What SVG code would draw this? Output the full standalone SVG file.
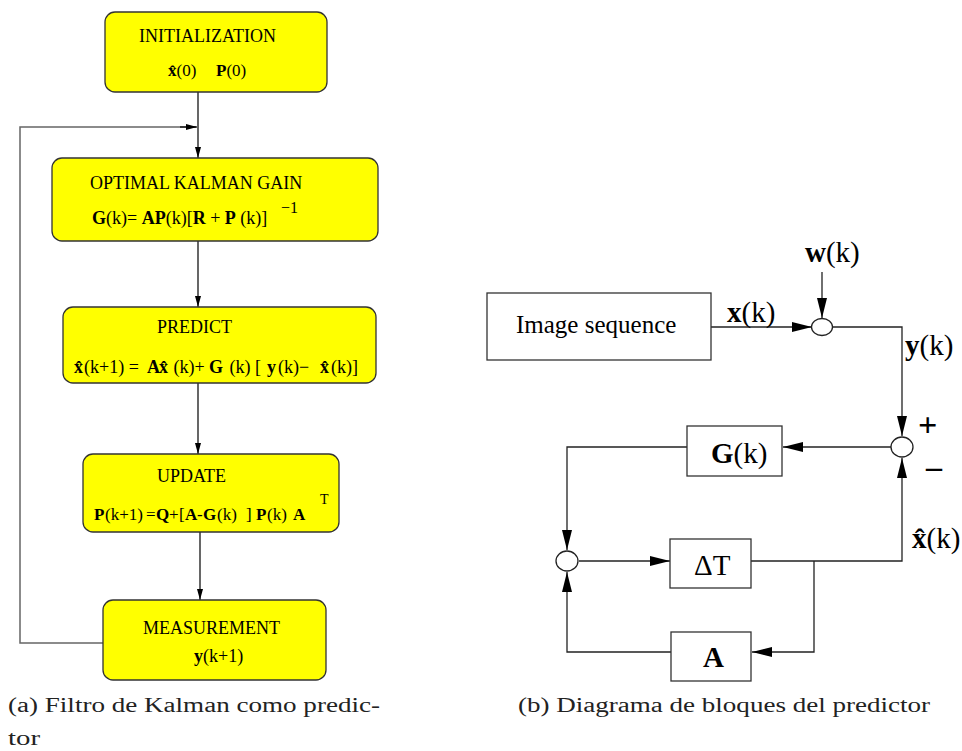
<svg xmlns="http://www.w3.org/2000/svg" width="962" height="751" viewBox="0 0 962 751">
<style>
.box{fill:#ffff00;stroke:#333;stroke-width:1.3}
.blk{fill:#fff;stroke:#333;stroke-width:1.3}
.ln{fill:none;stroke:#000;stroke-width:1.2}
.fb{fill:none;stroke:#666;stroke-width:1.5}
.rl{fill:none;stroke:#222;stroke-width:1.3}
.sum{fill:#fff;stroke:#222;stroke-width:1.3}
text{font-family:"Liberation Serif","Times New Roman",serif;fill:#000}
.t18{font-size:18px}
.b{font-weight:bold}
.big{font-size:29px}
.cap{font-size:20px;fill:#222}
</style>
<defs>
<marker id="aL" markerUnits="userSpaceOnUse" markerWidth="11" markerHeight="6" refX="11" refY="3" orient="auto"><path d="M0,0 L11,3 L0,6 z" fill="#000"/></marker>
<marker id="aR" markerUnits="userSpaceOnUse" markerWidth="20" markerHeight="10" refX="20" refY="5" orient="auto"><path d="M0,0 L20,5 L0,10 z" fill="#000"/></marker>
</defs>

<g id="connectors">
<line class="ln" x1="198" y1="92" x2="198" y2="158" marker-end="url(#aL)"/>
<polyline class="fb" points="103,643 20,643 20,127 196,127"/>
<line class="ln" x1="180" y1="127" x2="197" y2="127" marker-end="url(#aL)"/>
<line class="ln" x1="198" y1="241" x2="198" y2="307" marker-end="url(#aL)"/>
<line class="ln" x1="198" y1="383" x2="198" y2="454" marker-end="url(#aL)"/>
<line class="ln" x1="200" y1="532" x2="200" y2="600" marker-end="url(#aL)"/>

<line class="rl" x1="711" y1="327" x2="812" y2="327" marker-end="url(#aR)"/>
<line class="rl" x1="822" y1="272" x2="822" y2="318" marker-end="url(#aR)"/>
<polyline class="rl" points="833,327 902,327 902,436" marker-end="url(#aR)"/>
<line class="rl" x1="891" y1="447" x2="783" y2="447" marker-end="url(#aR)"/>
<polyline class="rl" points="687,447 567,447 567,550" marker-end="url(#aR)"/>
<line class="rl" x1="579" y1="561" x2="670" y2="561" marker-end="url(#aR)"/>
<polyline class="rl" points="751,561 902,561 902,458" marker-end="url(#aR)"/>
<polyline class="rl" points="814,561 814,652 752,652" marker-end="url(#aR)"/>
<polyline class="rl" points="671,652 567,652 567,572" marker-end="url(#aR)"/>
</g>

<g id="init">
<rect class="box" x="105" y="12" width="222" height="80" rx="10"/>
<text class="t18" x="139" y="42">INITIALIZATION</text>
<text style="font-size:17px" y="76"><tspan class="b" x="168">x&#x302;</tspan><tspan>(0)</tspan><tspan class="b" x="216">P</tspan><tspan>(0)</tspan></text>
</g>

<g id="gain">
<rect class="box" x="52" y="158" width="326" height="83" rx="10"/>
<text class="t18" x="90" y="189">OPTIMAL KALMAN GAIN</text>
<text class="t18" x="92" y="224"><tspan class="b">G</tspan>(k)= <tspan class="b">AP</tspan>(k)[<tspan class="b">R</tspan> +  <tspan class="b">P</tspan> (k)]</text>
<text style="font-size:16px" x="281" y="213">−1</text>
</g>

<g id="predict">
<rect class="box" x="63" y="307" width="313" height="76" rx="10"/>
<text class="t18" x="157" y="333">PREDICT</text>
<text class="t18" y="373"><tspan class="b" x="74">x&#x302;</tspan><tspan x="84">(k+1) = </tspan><tspan class="b" x="147">A</tspan><tspan class="b" x="159">x&#x302;</tspan><tspan x="169"> (k)+ </tspan><tspan class="b" x="209">G</tspan><tspan x="225"> (k) </tspan><tspan x="255">[</tspan><tspan class="b" x="267">y</tspan><tspan x="278">(k)−</tspan><tspan class="b" x="320">x&#x302;</tspan><tspan x="331">(k)]</tspan></text>
</g>

<g id="update">
<rect class="box" x="83" y="454" width="256" height="78" rx="10"/>
<text class="t18" x="157" y="482">UPDATE</text>
<text style="font-size:17px" y="520"><tspan class="b" x="94">P</tspan><tspan x="105">(k+1)</tspan><tspan x="146">=</tspan><tspan class="b" x="156">Q</tspan><tspan x="169">+</tspan><tspan x="179">[</tspan><tspan class="b" x="185">A</tspan><tspan x="197">-</tspan><tspan class="b" x="203">G</tspan><tspan x="217">(k)</tspan><tspan x="246">]</tspan><tspan class="b" x="256">P</tspan><tspan x="267">(k)</tspan><tspan class="b" x="293">A</tspan></text>
<text style="font-size:14px" x="320" y="504">T</text>
</g>

<g id="measurement">
<rect class="box" x="103" y="600" width="223" height="80" rx="10"/>
<text class="t18" x="143" y="634">MEASUREMENT</text>
<text class="t18" x="194" y="662"><tspan class="b">y</tspan>(k+1)</text>
</g>

<g id="imageseq">
<rect class="blk" x="487" y="293" width="224" height="67"/>
<text style="font-size:25px" x="516" y="333">Image sequence</text>
</g>

<g id="sum1">
<ellipse class="sum" cx="822" cy="327" rx="10.5" ry="8.5"/>
</g>

<g id="sum2">
<ellipse class="sum" cx="902" cy="447" rx="11" ry="10"/>
<text class="b" style="font-size:34px" x="918" y="436">+</text>
<text class="b" style="font-size:32px" x="926" y="477">–</text>
</g>

<g id="gk">
<rect class="blk" x="687" y="426" width="95" height="50"/>
<text class="big" x="711" y="463"><tspan class="b">G</tspan>(k)</text>
</g>

<g id="sum3">
<ellipse class="sum" cx="567" cy="561" rx="11" ry="10"/>
</g>

<g id="dt">
<rect class="blk" x="670" y="539" width="81" height="49"/>
<text class="big" x="694" y="575">ΔT</text>
</g>

<g id="ablk">
<rect class="blk" x="671" y="632" width="80" height="49"/>
<text class="big b" x="703" y="667">A</text>
</g>

<g id="labels">
<text class="big" x="805" y="262"><tspan class="b">w</tspan>(k)</text>
<text class="big" x="727" y="322"><tspan class="b">x</tspan>(k)</text>
<text class="big" x="905" y="355"><tspan class="b">y</tspan>(k)</text>
<text class="big" x="912" y="548"><tspan class="b">x&#x302;</tspan>(k)</text>
</g>

<g id="captions">
<text class="cap" x="8" y="712" textLength="372" lengthAdjust="spacingAndGlyphs">(a) Filtro de Kalman como predic-</text>
<text class="cap" x="8" y="745" textLength="32" lengthAdjust="spacingAndGlyphs">tor</text>
<text class="cap" x="518" y="712" textLength="412" lengthAdjust="spacingAndGlyphs">(b) Diagrama de bloques del predictor</text>
</g>
</svg>
